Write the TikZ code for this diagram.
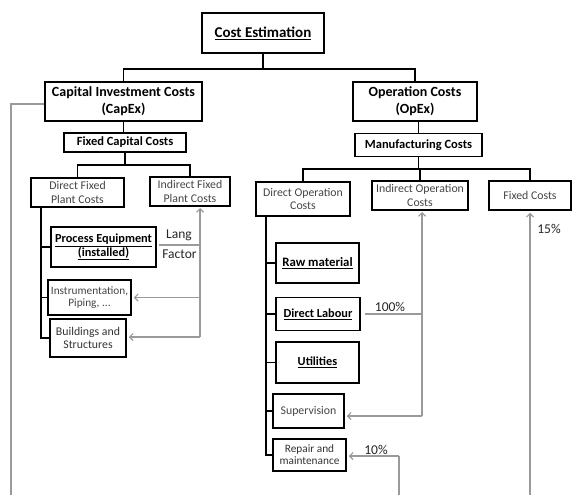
\documentclass[tikz,border=0pt]{standalone}
\usepackage{fontspec}
\setmainfont{Carlito}
\usetikzlibrary{arrows.meta,calc}
\definecolor{grl}{HTML}{9A9A9A}
\definecolor{txg}{HTML}{454545}
\tikzset{
  box/.style={draw=black, line width=1.5pt, fill=white, inner sep=1pt, align=center},
  bigf/.style={font=\fontsize{14}{17}\selectfont\bfseries},
  midf/.style={font=\fontsize{12.5}{14}\selectfont\bfseries},
  regf/.style={font=\fontsize{11.8}{13.5}\selectfont, text=txg},
  smf/.style={font=\fontsize{11.3}{12.5}\selectfont, text=txg},
  bldf/.style={font=\fontsize{12.3}{14}\selectfont\bfseries},
  blk/.style={draw=black, line width=1.5pt},
  gry/.style={draw=grl, line width=1.1pt},
  garr/.style={gry, -{Straight Barb[length=3.5pt,width=7pt,line width=1.1pt]}, shorten >=2pt},
  lbl/.style={font=\fontsize{13.5}{15}\selectfont, text=black!85, inner sep=0pt}
}
\begin{document}
\begin{tikzpicture}[x=1pt,y=-1pt]
\useasboundingbox (0,0) rectangle (572,495);
% level 0
\node[box, font=\fontsize{15}{18}\selectfont\bfseries, minimum width=122, minimum height=40] (ce) at (263,33) {\underline{Cost Estimation}};
% level 1
\node[box, bigf, minimum width=157, minimum height=39] (capex) at (123.5,101.5) {Capital Investment Costs\\(CapEx)};
\node[box, bigf, minimum width=124, minimum height=39] (opex) at (415,101.5) {Operation Costs\\(OpEx)};
% level 2
\node[box, midf, minimum width=122, minimum height=19] (fcc) at (125,142.5) {Fixed Capital Costs};
\node[box, midf, minimum width=127, minimum height=23] (mc) at (418.5,145) {Manufacturing Costs};
% level 3
\node[box, regf, minimum width=93, minimum height=29] (dfp) at (77.5,192.5) {Direct Fixed\\Plant Costs};
\node[box, regf, minimum width=80, minimum height=29] (ifp) at (190,191.5) {Indirect Fixed\\Plant Costs};
\node[box, regf, minimum width=94, minimum height=34] (doc) at (303,199) {Direct Operation\\Costs};
\node[box, regf, minimum width=96, minimum height=29] (ioc) at (420,195.5) {Indirect Operation\\Costs};
\node[box, regf, minimum width=82, minimum height=29] (fc) at (530,195.5) {Fixed Costs};
% left children
\node[box, bldf, minimum width=105, minimum height=40] (pe) at (103.5,247) {\underline{Process Equipment}\\\underline{(installed)}};
\node[box, smf, minimum width=83, minimum height=35] (ins) at (89.5,297.5) {Instrumentation,\\Piping, ...};
\node[box, regf, text=black!80, minimum width=76, minimum height=38] (bs) at (88,338) {Buildings and\\Structures};
% right children
\node[box, bldf, font=\fontsize{12.8}{14}\selectfont\bfseries, minimum width=83, minimum height=40] (rm) at (317.5,263) {\underline{Raw material}};
\node[box, bldf, minimum width=84, minimum height=33] (dlab) at (318,314) {\underline{Direct Labour}};
\node[box, bldf, minimum width=83, minimum height=41] (ut) at (317.5,362.5) {\underline{Utilities}};
\node[box, regf, minimum width=71, minimum height=34] (sup) at (308.5,411) {Supervision};
\node[box, text=black!80, font=\fontsize{11.3}{12}\selectfont, minimum width=73, minimum height=32] (rep) at (309.5,455) {Repair and\\maintenance};
% tree connectors
\coordinate (j0) at (263,69);
\draw[blk] (ce.south) -- (j0);
\draw[blk] (j0) -| (capex.north);
\draw[blk] (j0) -| (opex.north);
\draw[blk] (capex.south) -- (capex.south |- fcc.north);
\draw[blk] (mc.north) -- (mc.north |- opex.south);
\coordinate (j1) at (125,165);
\draw[blk] (fcc.south) -- (j1);
\draw[blk] (j1) -| (dfp.north);
\draw[blk] (j1) -| (ifp.north);
\coordinate (j2) at (418.5,169);
\draw[blk] (mc.south) -- (j2);
\draw[blk] (j2) -| (doc.north);
\draw[blk] (j2) -| (ioc.north);
\draw[blk] (j2) -| (fc.north);
% left vertical
\coordinate (dv) at (41,207);
\draw[blk] (dv) |- (bs.west);
\draw[blk] (pe.west) -- (pe.west -| dv);
\draw[blk] (ins.west) -- (ins.west -| dv);
% right vertical
\coordinate (ov) at (266,216);
\draw[blk] (ov) |- (rep.west);
\draw[blk] (rm.west) -- (rm.west -| ov);
\draw[blk] (dlab.west) -- (dlab.west -| ov);
\draw[blk] (ut.west) -- (ut.west -| ov);
\draw[blk] (sup.west) -- (sup.west -| ov);
% gray: far left
\coordinate (fl1) at (11,104);
\coordinate (fl2) at (11,495);
\draw[gry] (capex.west |- fl1) -- (fl1) -- (fl2);
% gray: Lang factor
\coordinate (lv) at (200,337);
\coordinate (lt) at (200,206);
\draw[garr] (lv) -- (lt);
\draw[garr] (lv) -- (bs.east |- lv);
\draw[garr] (lv |- ins.east) -- (ins.east);
\coordinate (lf) at (159,245);
\draw[gry] (lf) -- (lf -| lv);
\node[lbl] (lang) at (179,235) {Lang};
\node[lbl] (fac) at (179.5,254) {Factor};
% gray: 100%
\coordinate (hv) at (422,416);
\coordinate (ht) at (422,210);
\draw[garr] (hv) -- (ht);
\draw[garr] (hv) -- (sup.east |- hv);
\coordinate (hl) at (365,314);
\draw[gry] (hl) -- (hl -| hv);
\node[lbl] (p100) at (390,307) {100\%};
% gray: 10%
\coordinate (tv) at (399,456);
\coordinate (tb) at (399,495);
\draw[gry] (tb) -- (tv);
\draw[garr] (tv) -- (rep.east |- tv);
\node[lbl] (p10) at (376,450) {10\%};
% gray: 15%
\coordinate (fv) at (530,495);
\draw[garr] (fv) -- (fc.south);
\node[lbl] (p15) at (549,229) {15\%};
\end{tikzpicture}
\end{document}
